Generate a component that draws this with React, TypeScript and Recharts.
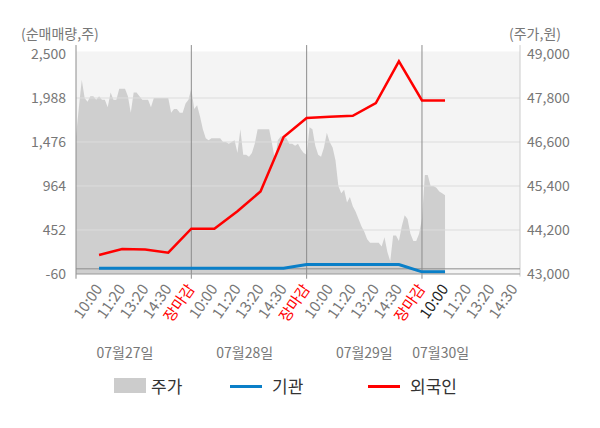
import React from 'react';
import { ComposedChart, Area, Line, XAxis, YAxis, ReferenceLine, ReferenceArea } from 'recharts';

// x positions are 10-minute-ish slots, 40 per trading day
const DAY_LABELS = ['10:00', '11:20', '13:20', '14:30', '장마감'];
const DATE_LABELS = ['07월27일', '07월28일', '07월29일', '07월30일'];
const DATE_POS = [17, 58.5, 100, 126.5];
const TIME_TICKS = [8, 16, 24, 32, 40, 48, 56, 64, 72, 80, 88, 96, 104, 112, 120, 128, 136, 144, 152];
const DAY_BOUNDS = [40, 80, 120];
const LEFT_TICKS = [-60, 452, 964, 1476, 1988, 2500];
const RIGHT_TICKS = [43000, 44200, 45400, 46600, 47800, 49000];

// 주가 (price), per day
const price27 = [
  46750, 47550, 48300, 47800, 47700, 47850, 47850, 47750, 47850, 47750,
  47750, 47550, 47950, 47750, 47750, 48050, 48050, 48050, 47850, 47400,
  47950, 47950, 47850, 47750, 47750, 47750, 47550, 47800, 47800, 47800,
  47800, 47800, 47800, 47400, 47500, 47500, 47400, 47400, 47650, 47750,
  48050,
];
const price28 = [
  47500, 47600, 47300, 46950, 46700, 46650, 46700, 46700, 46700, 46700,
  46600, 46600, 46550, 46600, 46650, 46300, 46950, 46250, 46250, 46200,
  46300, 46550, 46950, 46950, 46950, 46950, 46950, 46550, 46100, 46650,
  46750, 46750, 46700, 46550, 46550, 46500, 46550, 46400, 46300, 46250,
];
const price29 = [
  47000, 46950, 46500, 46250, 46200, 46450, 46850, 46600, 46450, 46100,
  45400, 45200, 45300, 44950, 45100, 44850, 44700, 44500, 44300, 44150,
  43950, 43850, 43850, 43850, 43850, 43750, 44000, 43600, 43350, 44050,
  44050, 43900, 44300, 44600, 44500, 44100, 43900, 43900, 44100, 44500,
];
const price30 = [45700, 45700, 45400, 45400, 45350, 45250, 45200, 45150];

// 순매매량 at each labelled time
const flowSlots = [8, 16, 24, 32, 40, 48, 56, 64, 72, 80, 88, 96, 104, 112, 120, 128];
const foreign = [161, 231, 226, 188, 467, 467, 670, 901, 1534, 1755, 1770, 1780, 1930, 2414, 1960, 1960];
const institution = [8, 8, 8, 8, 8, 8, 8, 8, 8, 50, 50, 50, 50, 50, -35, -35];

const prices = [...price27, ...price28, ...price29, ...price30];
const rows: any[] = prices.map((p, i) => ({ idx: i, price: p, foreign: null, inst: null }));
flowSlots.forEach((s, k) => {
  rows[s].foreign = foreign[k];
  rows[s].inst = institution[k];
});

const FONT = "'Noto Sans CJK KR', 'Noto Sans', sans-serif";

const TimeTick = (props: any) => {
  const { x, y, payload } = props;
  const k = payload.value / 8 - 1;
  const label = DAY_LABELS[k % 5];
  const fill = label === '장마감' ? '#ff0000' : payload.value === 128 ? '#222' : '#777';
  const tx = x + 4;
  const ty = y + 15;
  return (
    <text x={tx} y={ty} transform={`rotate(-55 ${tx} ${ty})`} textAnchor="end" fontSize={15} fill={fill}>
      {label}
    </text>
  );
};

const DateTick = (props: any) => {
  const { x, y, payload } = props;
  const label = DATE_LABELS[DATE_POS.indexOf(payload.value)];
  return (
    <text x={x} y={y + 34} textAnchor="middle" fontSize={14} fill="#777">
      {label}
    </text>
  );
};

const App: React.FC = () => {
  return (
    <div style={{ position: 'absolute', left: 0, top: 0, width: 600, height: 428, fontFamily: FONT, background: '#fff' }}>
      <div style={{ position: 'absolute', left: 21, top: 23, fontSize: 14, color: '#777' }}>(순매매량,주)</div>
      <div style={{ position: 'absolute', left: 509, top: 23, fontSize: 14, color: '#777' }}>(주가,원)</div>

      <ComposedChart width={600} height={428} data={rows} margin={{ top: 45, right: 0, bottom: 74, left: 0 }}>
        <XAxis
          dataKey="idx"
          type="number"
          domain={[0, 154]}
          ticks={TIME_TICKS}
          tick={TimeTick}
          interval={0}
          height={50}
          tickSize={0}
          tickMargin={0}
          axisLine={{ stroke: '#999' }}
          tickLine={false}
        />
        <XAxis
          xAxisId="date"
          dataKey="idx"
          type="number"
          domain={[0, 154]}
          ticks={DATE_POS}
          tick={DateTick}
          interval={0}
          height={30}
          tickSize={0}
          tickMargin={0}
          axisLine={false}
          tickLine={false}
        />
        <YAxis
          yAxisId="left"
          orientation="left"
          width={76}
          domain={[-60, 2604.7]}
          ticks={LEFT_TICKS}
          interval={0}
          tickFormatter={(v: number) => v.toLocaleString('en-US')}
          tick={{ fill: '#777', fontSize: 14 }}
          tickSize={0}
          tickMargin={10}
          axisLine={false}
          tickLine={false}
        />
        <YAxis
          yAxisId="right"
          orientation="right"
          width={80}
          domain={[43000, 49245.5]}
          ticks={RIGHT_TICKS}
          interval={0}
          tickFormatter={(v: number) => v.toLocaleString('en-US')}
          tick={{ fill: '#777', fontSize: 14 }}
          tickSize={0}
          tickMargin={7}
          axisLine={false}
          tickLine={false}
        />

        <ReferenceArea yAxisId="left" x1={0} x2={154} y1={-60} y2={2530} fill="#f4f4f4" fillOpacity={1} stroke="none" ifOverflow="visible" />

        <Area
          yAxisId="right"
          dataKey="price"
          type="linear"
          fill="#cfcfcf"
          fillOpacity={1}
          stroke="none"
          isAnimationActive={false}
          dot={false}
          activeDot={false}
        />

        {LEFT_TICKS.slice(1, 5).map((v) => (
          <ReferenceLine key={v} yAxisId="left" y={v} stroke="#dddddd" strokeWidth={1} ifOverflow="visible" />
        ))}

        {[0, ...DAY_BOUNDS].map((b) => (
          <ReferenceLine
            key={b}
            yAxisId="left"
            segment={[{ x: b, y: 2604 }, { x: b, y: -115 }]}
            stroke="#8c8c8c"
            strokeWidth={1}
            ifOverflow="visible"
          />
        ))}
        <ReferenceLine
          yAxisId="left"
          segment={[{ x: 154, y: 2604 }, { x: 154, y: -90 }]}
          stroke="#cccccc"
          strokeWidth={1}
          ifOverflow="visible"
        />
        <ReferenceLine yAxisId="left" y={0} stroke="#8c8c8c" strokeWidth={1} />

        <Line
          yAxisId="left"
          dataKey="inst"
          type="linear"
          stroke="#0a7fc8"
          strokeWidth={3}
          dot={false}
          activeDot={false}
          connectNulls
          isAnimationActive={false}
        />
        <Line
          yAxisId="left"
          dataKey="foreign"
          type="linear"
          stroke="#ff0000"
          strokeWidth={2.5}
          dot={false}
          activeDot={false}
          connectNulls
          isAnimationActive={false}
        />
      </ComposedChart>

      {/* legend */}
      <div style={{ position: 'absolute', left: 114, top: 378, width: 32, height: 15, background: '#cccccc' }} />
      <div style={{ position: 'absolute', left: 151, top: 373, fontSize: 17, color: '#333' }}>주가</div>
      <div style={{ position: 'absolute', left: 230, top: 385, width: 32, height: 3, background: '#0a7fc8' }} />
      <div style={{ position: 'absolute', left: 272, top: 373, fontSize: 17, color: '#333' }}>기관</div>
      <div style={{ position: 'absolute', left: 368, top: 385, width: 32, height: 3, background: '#ff0000' }} />
      <div style={{ position: 'absolute', left: 410, top: 373, fontSize: 17, color: '#333' }}>외국인</div>
    </div>
  );
};

export default App;
